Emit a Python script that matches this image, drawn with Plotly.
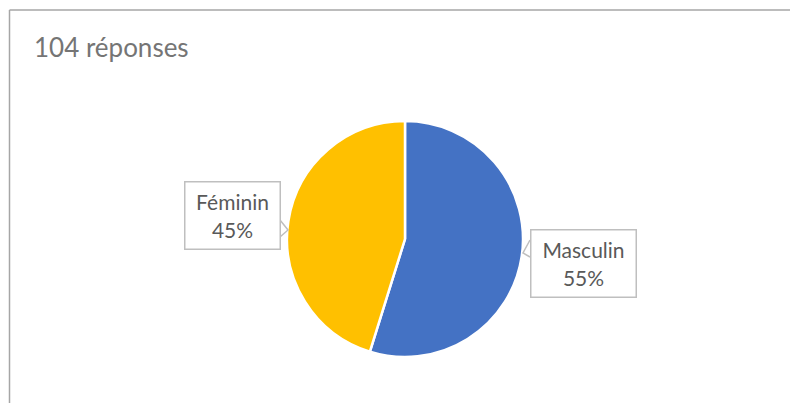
import plotly.graph_objects as go

labels = ["Masculin", "Féminin"]
counts = [57, 47]
percent_labels = ["55%", "45%"]
colors = ["#4472C4", "#FFC000"]
title_text = "104 réponses"

W, H = 790, 403

fig = go.Figure(go.Pie(
    labels=labels,
    values=counts,
    sort=False,
    direction="clockwise",
    rotation=0,
    textinfo="none",
    hoverinfo="label+percent",
    marker=dict(colors=colors, line=dict(color="white", width=2.5)),
    domain=dict(x=[287 / W, 523 / W], y=[46 / H, 282 / H]),
    showlegend=False,
))

def px(x):
    return x / W

def py(y):
    return 1 - y / H

border = "#A6A6A6"
box = "#BFBFBF"
shapes = [
    dict(type="line", xref="paper", yref="paper", x0=px(9.5), x1=px(790), y0=py(10), y1=py(10), line=dict(color=border, width=1.5)),
    dict(type="line", xref="paper", yref="paper", x0=px(9.5), x1=px(9.5), y0=py(10), y1=py(403), line=dict(color=border, width=1.5)),
    # callout pointers
    dict(type="path", xref="paper", yref="paper",
         path=f"M {px(280)},{py(220)} L {px(288)},{py(230)} L {px(280)},{py(237)}",
         line=dict(color=box, width=1.5)),
    dict(type="path", xref="paper", yref="paper",
         path=f"M {px(530)},{py(240)} L {px(523)},{py(253)} L {px(530)},{py(257)}",
         line=dict(color=box, width=1.5)),
]

font = "Lato, 'Open Sans', sans-serif"
annotations = [
    dict(text=title_text, xref="paper", yref="paper", x=px(32), y=py(47), xanchor="left", yanchor="middle",
         showarrow=False, font=dict(family=font, size=26, color="#757575")),
    dict(text=f"{labels[1]}<br>{percent_labels[1]}", xref="paper", yref="paper", x=px(232), y=py(216),
         xanchor="center", yanchor="middle", showarrow=False, width=92, height=64, borderpad=1,
         bordercolor=box, borderwidth=1.5, bgcolor="white",
         font=dict(family=font, size=21, color="#595959")),
    dict(text=f"{labels[0]}<br>{percent_labels[0]}", xref="paper", yref="paper", x=px(583), y=py(263),
         xanchor="center", yanchor="middle", showarrow=False, width=102, height=64, borderpad=1,
         bordercolor=box, borderwidth=1.5, bgcolor="white",
         font=dict(family=font, size=21, color="#595959")),
]

fig.update_layout(
    width=W, height=H,
    margin=dict(l=0, r=0, t=0, b=0),
    paper_bgcolor="white",
    plot_bgcolor="white",
    shapes=shapes,
    annotations=annotations,
)

fig.write_html("out.html", config={"displayModeBar": False},
               post_script="document.body.style.margin='0';document.body.style.overflow='hidden';")
